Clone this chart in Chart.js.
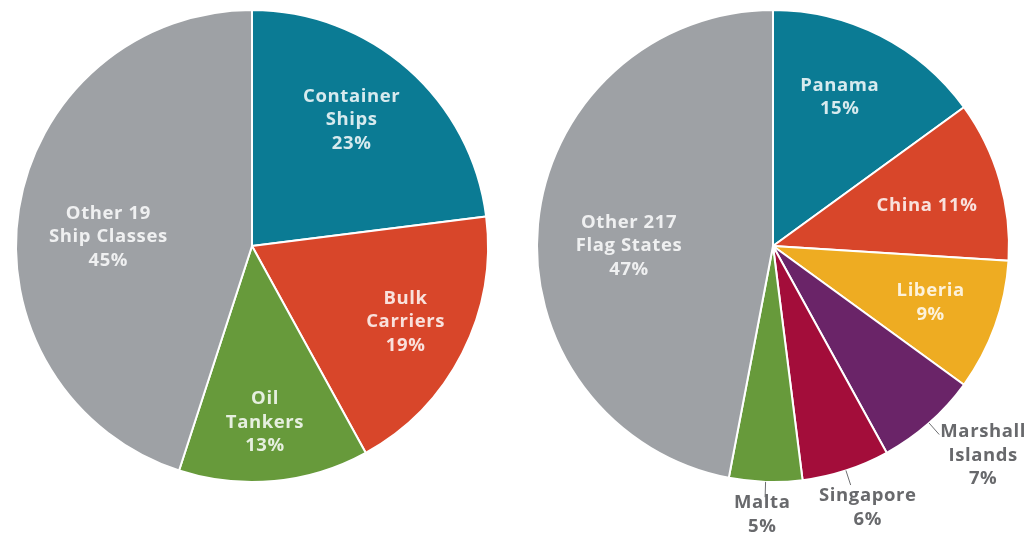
<!DOCTYPE html>
<html>
<head>
<meta charset="utf-8">
<script src="https://cdn.jsdelivr.net/npm/chart.js@4/dist/chart.umd.min.js"></script>
<style>
html,body{margin:0;padding:0;background:#fff;}
#wrap{position:relative;width:1031px;height:538px;overflow:hidden;}
.box{position:absolute;top:0;height:538px;}
#b1{left:0;width:515px;}
#b2{left:515px;width:516px;}
</style>
</head>
<body>
<div id="wrap">
<div class="box" id="b1"><canvas id="classes"></canvas></div>
<div class="box" id="b2"><canvas id="flags"></canvas></div>
</div>
<script>
// ship classes
const classLabels=[["Container","Ships"],["Bulk","Carriers"],["Oil","Tankers"],["Other 19","Ship Classes"]];
const classValues=[23,19,13,45];
const classColors=["#0b7b94","#d8462a","#679a3b","#9ea1a5"];

// flag states
const flagLabels=[["Panama"],["China"],["Liberia"],["Marshall","Islands"],["Singapore"],["Malta"],["Other 217","Flag States"]];
const flagValues=[15,11,9,7,6,5,47];
const flagColors=["#0b7b94","#d8462a","#eeac22","#6a2468","#a30d3a","#679a3b","#9ea1a5"];

// where each label sits: fraction of radius, angle nudge in degrees
const classPlace=[{r:0.68,da:-3},{r:0.726,da:-0.7},{r:0.75,da:1.2},{r:0.61,da:-5.4}];
const flagPlace=[
  {r:0.69,da:-2.8},
  {r:0.675,da:1.4,inline:true},
  {r:0.71,da:0},
  {r:1.257,da:-3.7,out:true},
  {r:1.18,da:-1.9,out:true},
  {r:1.14,da:0.5,out:true},
  {r:0.61,da:-5.4}
];

const sliceText={
  id:'sliceText',
  afterDatasetsDraw(chart,args,opts){
    const ctx=chart.ctx;
    const meta=chart.getDatasetMeta(0);
    const vals=chart.data.datasets[0].data;
    const lines=opts.lines;
    ctx.save();
    ctx.font='700 18.5px "Open Sans"';
    ctx.letterSpacing='0.6px';
    ctx.textAlign='center';
    ctx.textBaseline='middle';
    meta.data.forEach((arc,i)=>{
      const p=opts.place[i];
      const mid=(arc.startAngle+arc.endAngle)/2;
      const ang=mid+p.da*Math.PI/180;
      const R=arc.outerRadius;
      const cx=arc.x+Math.cos(ang)*R*p.r;
      const cy=arc.y+Math.sin(ang)*R*p.r;
      let txt=lines[i].slice();
      if(p.inline){txt[txt.length-1]+=' '+vals[i]+'%';}
      else txt.push(vals[i]+'%');
      if(p.out){
        // leader from the rim outward
        ctx.strokeStyle='#6d6e71';
        ctx.lineWidth=1;
        ctx.beginPath();
        ctx.moveTo(arc.x+Math.cos(mid)*R*1.0,arc.y+Math.sin(mid)*R*1.0);
        ctx.lineTo(arc.x+Math.cos(mid)*R*1.065,arc.y+Math.sin(mid)*R*1.065);
        ctx.stroke();
        ctx.fillStyle='#68696c';
      }else{
        ctx.fillStyle='rgba(255,255,255,0.84)';
      }
      const lh=23.5;
      const top=cy-(txt.length-1)*lh/2;
      txt.forEach((t,k)=>ctx.fillText(t,cx,top+k*lh));
    });
    ctx.restore();
  }
};

function makePie(id,labels,values,colors,place,pad){
  return new Chart(document.getElementById(id),{
    type:'pie',
    data:{
      labels:labels.map(l=>l.join(' ')),
      datasets:[{
        data:values,
        backgroundColor:colors,
        borderColor:'#ffffff',
        borderWidth:2
      }]
    },
    options:{
      responsive:true,
      maintainAspectRatio:false,
      animation:false,
      layout:{padding:pad},
      plugins:{
        legend:{display:false},
        tooltip:{enabled:false},
        sliceText:{lines:labels,place:place}
      }
    },
    plugins:[sliceText]
  });
}

makePie('classes',classLabels,classValues,classColors,classPlace,{left:14,right:25,top:9,bottom:55});
makePie('flags',flagLabels,flagValues,flagColors,flagPlace,{left:20,right:20,top:9,bottom:55});
</script>
</body>
</html>
